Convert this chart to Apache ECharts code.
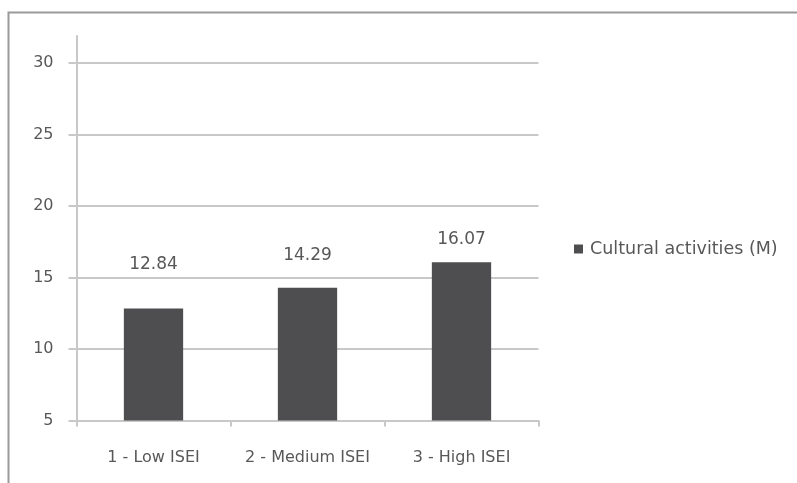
<!DOCTYPE html>
<html>
<head>
<meta charset="utf-8">
<script src="https://cdn.jsdelivr.net/npm/echarts@6/dist/echarts.min.js"></script>
<style>
  html, body { margin: 0; padding: 0; background: #fff; }
  #chart { width: 797px; height: 483px; }
</style>
</head>
<body>
<div id="chart"></div>
<script>
// Cultural activities mean score by ISEI group
const categories = ['1 - Low ISEI', '2 - Medium ISEI', '3 - High ISEI'];
const culturalMeans = [12.84, 14.29, 16.07];
const yTickValues = [5, 10, 15, 20, 25, 30];
const seriesName = 'Cultural activities (M)';

// how far each value label sits above its bar (px)
const labelLift = [35, 24, 14];

const font = '"DejaVu Sans", sans-serif';
const textColor = '#585858';
const lineColor = '#c8c8c8';

const chart = echarts.init(document.getElementById('chart'), null, { renderer: 'canvas' });

chart.setOption({
  animation: false,
  backgroundColor: '#fff',
  textStyle: { fontFamily: font },
  graphic: [{
    type: 'polyline',
    shape: { points: [[8.5, 490], [8.5, 12.5], [800, 12.5]] },
    style: { stroke: '#9a9a9a', lineWidth: 2, fill: null },
    silent: true
  }],
  grid: { left: 76.5, right: 258.5, top: 36, bottom: 62.5, containLabel: false },
  legend: {
    data: [seriesName],
    left: 574,
    top: 240,
    padding: 0,
    orient: 'vertical',
    icon: 'rect',
    itemWidth: 9,
    itemHeight: 9,
    itemGap: 6,
    textStyle: { fontFamily: font, fontSize: 17.5, color: textColor, padding: [0, 0, 0, 2] }
  },
  xAxis: {
    type: 'category',
    data: categories,
    boundaryGap: true,
    axisLine: { lineStyle: { color: lineColor, width: 2 } },
    axisTick: { show: true, interval: 0, length: 6, lineStyle: { color: lineColor, width: 2 } },
    axisLabel: { interval: 0, margin: 29, fontFamily: font, fontSize: 16, color: textColor }
  },
  yAxis: {
    type: 'value',
    min: 5,
    max: 31.9,
    interval: 5,
    axisLine: { show: true, lineStyle: { color: lineColor, width: 2 } },
    axisTick: { show: true, length: 8, customValues: yTickValues, lineStyle: { color: lineColor, width: 2 } },
    axisLabel: { margin: 23, fontFamily: font, fontSize: 16, color: textColor, customValues: yTickValues },
    splitLine: { show: true, lineStyle: { color: lineColor, width: 2 } }
  },
  series: [{
    name: seriesName,
    type: 'bar',
    barWidth: '38.5%',
    itemStyle: { color: '#4e4e50' },
    data: culturalMeans.map((v, i) => ({
      value: v,
      label: { offset: [0, -labelLift[i]] }
    })),
    label: {
      show: true,
      position: 'top',
      distance: 0,
      fontFamily: font,
      fontSize: 17,
      lineHeight: 17,
      color: textColor,
      formatter: p => p.value.toFixed(2)
    }
  }]
});
</script>
</body>
</html>
